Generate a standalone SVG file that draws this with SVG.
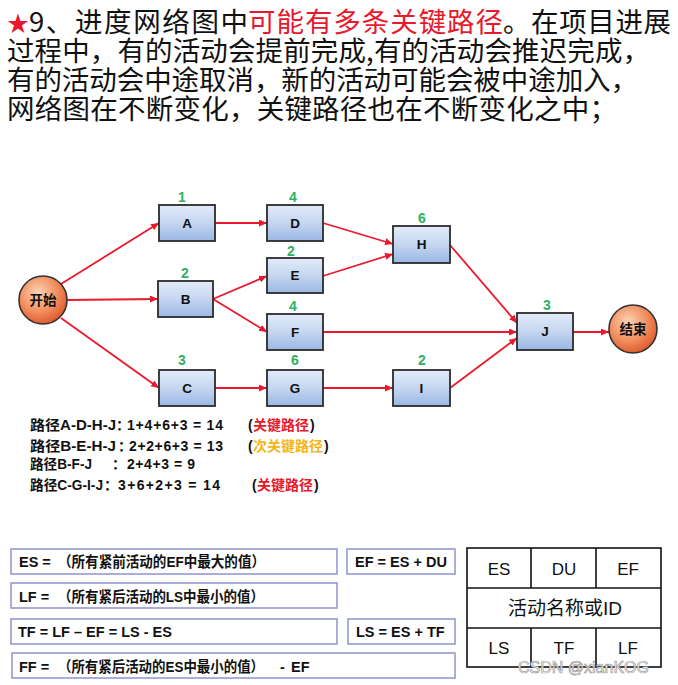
<svg xmlns="http://www.w3.org/2000/svg" width="678" height="685" viewBox="0 0 678 685">
<defs>
<linearGradient id="boxg" x1="0" y1="0" x2="0" y2="1">
<stop offset="0" stop-color="#e2ebf9"/>
<stop offset="0.5" stop-color="#c5d6f0"/>
<stop offset="1" stop-color="#9ab7e4"/>
</linearGradient>
<radialGradient id="circg" cx="0.4" cy="0.35" r="0.7">
<stop offset="0" stop-color="#fcd3b8"/>
<stop offset="0.55" stop-color="#f2905f"/>
<stop offset="1" stop-color="#dc5528"/>
</radialGradient>
<marker id="arr" markerUnits="userSpaceOnUse" markerWidth="9" markerHeight="8" refX="8" refY="3.5" orient="auto">
<path d="M0,0 L8,3.5 L0,7 z" fill="#e8192c"/>
</marker>
</defs>
<style>
.title{font-family:"Noto Sans CJK SC","Noto Sans",sans-serif;font-size:27.5px;fill:#111}
.box{fill:url(#boxg);stroke:#2b2b2b;stroke-width:1.8}
.circ{fill:url(#circg);stroke:#333;stroke-width:1.6}
.lbl{font-family:"Liberation Sans","Noto Sans CJK SC",sans-serif;font-size:13.5px;font-weight:bold;fill:#111;text-anchor:middle}
.num{font-family:"Liberation Sans",sans-serif;font-size:14px;font-weight:bold;fill:#2fb062;text-anchor:middle}
.conn line{stroke:#e8192c;stroke-width:1.8;marker-end:url(#arr)}
.path{font-family:"Liberation Sans","Noto Sans CJK SC",sans-serif;font-size:14px;font-weight:bold;fill:#111}
.frm{fill:#fff;stroke:#8f93cc;stroke-width:1.5}
.ft{font-family:"Liberation Sans","Noto Sans CJK SC",sans-serif;font-size:14.5px;font-weight:bold;fill:#111}
.tb{fill:none;stroke:#111;stroke-width:1.6}
.tt{font-family:"Liberation Sans","Noto Sans CJK SC",sans-serif;font-size:17px;fill:#111;text-anchor:middle}
.red{fill:#e8192c}
.yel{fill:#f3b51a}
</style>
<rect width="678" height="685" fill="#fff"/>

<g id="title">
<text class="title red" x="7" y="31" style="font-size:22px">★</text>
<text class="title" x="29" y="32" textLength="219" lengthAdjust="spacing">9、进度网络图中</text>
<text class="title red" x="248" y="32" textLength="255" lengthAdjust="spacing">可能有多条关键路径</text>
<text class="title" x="503" y="32" textLength="168" lengthAdjust="spacing">。在项目进展</text>
<text class="title" x="7" y="61" textLength="643" lengthAdjust="spacing">过程中，有的活动会提前完成,有的活动会推迟完成，</text>
<text class="title" x="7" y="90" textLength="631" lengthAdjust="spacing">有的活动会中途取消，新的活动可能会被中途加入，</text>
<text class="title" x="7" y="119" textLength="610" lengthAdjust="spacing">网络图在不断变化，关键路径也在不断变化之中；</text>
</g>

<g id="connectors" class="conn">
<line x1="61" y1="284" x2="159" y2="223"/>
<line x1="67" y1="300" x2="158" y2="299"/>
<line x1="61" y1="318" x2="159" y2="388"/>
<line x1="215" y1="223" x2="267" y2="223"/>
<line x1="213" y1="299" x2="267" y2="276"/>
<line x1="213" y1="299" x2="267" y2="332"/>
<line x1="215" y1="388" x2="267" y2="388"/>
<line x1="323" y1="223" x2="393" y2="244"/>
<line x1="323" y1="276" x2="393" y2="254"/>
<line x1="323" y1="332" x2="517" y2="332"/>
<line x1="323" y1="388" x2="393" y2="388"/>
<line x1="450" y1="245" x2="517" y2="323"/>
<line x1="450" y1="388" x2="517" y2="338"/>
<line x1="573" y1="332" x2="609" y2="332"/>
</g>

<g id="start"><circle class="circ" cx="43" cy="300" r="24"/><text class="lbl" x="43" y="305">开始</text></g>
<g id="A"><rect class="box" x="159" y="205" width="56" height="36"/><text class="lbl" x="187" y="228">A</text><text class="num" x="182" y="202">1</text></g>
<g id="D"><rect class="box" x="267" y="205" width="56" height="36"/><text class="lbl" x="295" y="228">D</text><text class="num" x="293" y="202">4</text></g>
<g id="E"><rect class="box" x="267" y="258" width="56" height="35"/><text class="lbl" x="295" y="280">E</text><text class="num" x="291" y="256">2</text></g>
<g id="B"><rect class="box" x="158" y="281" width="55" height="36"/><text class="lbl" x="185.5" y="304">B</text><text class="num" x="185" y="278">2</text></g>
<g id="F"><rect class="box" x="267" y="314" width="56" height="36"/><text class="lbl" x="295" y="337">F</text><text class="num" x="293" y="311">4</text></g>
<g id="C"><rect class="box" x="159" y="370" width="56" height="36"/><text class="lbl" x="187" y="393">C</text><text class="num" x="182" y="365">3</text></g>
<g id="G"><rect class="box" x="267" y="370" width="56" height="36"/><text class="lbl" x="295" y="393">G</text><text class="num" x="295" y="365">6</text></g>
<g id="H"><rect class="box" x="393" y="226" width="57" height="37"/><text class="lbl" x="421.5" y="249">H</text><text class="num" x="422" y="223">6</text></g>
<g id="J"><rect class="box" x="517" y="313" width="56" height="37"/><text class="lbl" x="545" y="336">J</text><text class="num" x="547" y="310">3</text></g>
<g id="I"><rect class="box" x="393" y="370" width="57" height="36"/><text class="lbl" x="421.5" y="393">I</text><text class="num" x="422" y="365">2</text></g>
<g id="end"><circle class="circ" cx="633" cy="329" r="24"/><text class="lbl" x="633" y="334">结束</text></g>

<g id="paths">
<text class="path" x="30" y="430" textLength="86" lengthAdjust="spacingAndGlyphs">路径A-D-H-J</text>
<text class="path" x="116" y="430">：</text>
<text class="path" x="127" y="430" textLength="96" lengthAdjust="spacing">1+4+6+3 = 14</text>
<text class="path" x="248" y="430">(</text>
<text class="path red" x="253" y="430">关键路径</text>
<text class="path" x="310" y="430">)</text>
<text class="path" x="30" y="451" textLength="86" lengthAdjust="spacingAndGlyphs">路径B-E-H-J</text>
<text class="path" x="118" y="451">：</text>
<text class="path" x="129" y="451" textLength="94" lengthAdjust="spacing">2+2+6+3 = 13</text>
<text class="path" x="248" y="451">(</text>
<text class="path yel" x="253" y="451">次关键路径</text>
<text class="path" x="324" y="451">)</text>
<text class="path" x="30" y="469" textLength="62" lengthAdjust="spacingAndGlyphs">路径B-F-J</text>
<text class="path" x="112" y="469">：</text>
<text class="path" x="127" y="469" textLength="68" lengthAdjust="spacing">2+4+3 = 9</text>
<text class="path" x="30" y="490" textLength="73" lengthAdjust="spacingAndGlyphs">路径C-G-I-J</text>
<text class="path" x="104" y="490">：</text>
<text class="path" x="118" y="490" textLength="102" lengthAdjust="spacing">3+6+2+3 = 14</text>
<text class="path" x="252" y="490">(</text>
<text class="path red" x="257" y="490">关键路径</text>
<text class="path" x="314" y="490">)</text>
</g>

<g id="formulas">
<rect class="frm" x="11" y="549" width="326" height="25"/>
<text class="ft" x="19" y="567">ES =</text>
<text class="ft" x="58" y="567" textLength="207" lengthAdjust="spacingAndGlyphs">（所有紧前活动的EF中最大的值）</text>
<rect class="frm" x="347" y="549" width="108" height="25"/>
<text class="ft" x="355" y="567">EF = ES + DU</text>
<rect class="frm" x="11" y="583" width="326" height="25"/>
<text class="ft" x="19" y="602">LF =</text>
<text class="ft" x="58" y="602" textLength="206" lengthAdjust="spacingAndGlyphs">（所有紧后活动的LS中最小的值）</text>
<rect class="frm" x="11" y="619" width="326" height="25"/>
<text class="ft" x="18" y="637">TF = LF – EF = LS - ES</text>
<rect class="frm" x="348" y="619" width="107" height="25"/>
<text class="ft" x="356" y="637">LS = ES + TF</text>
<rect class="frm" x="12" y="653" width="443" height="25"/>
<text class="ft" x="19" y="672">FF =</text>
<text class="ft" x="58" y="672" textLength="206" lengthAdjust="spacingAndGlyphs">（所有紧后活动的ES中最小的值）</text>
<text class="ft" x="280" y="672">-</text>
<text class="ft" x="291" y="672">EF</text>
</g>

<g id="legend">
<rect class="tb" x="467" y="548" width="194" height="119"/>
<line class="tb" x1="467" y1="588" x2="661" y2="588"/>
<line class="tb" x1="467" y1="628" x2="661" y2="628"/>
<line class="tb" x1="531" y1="548" x2="531" y2="588"/>
<line class="tb" x1="596" y1="548" x2="596" y2="588"/>
<line class="tb" x1="531" y1="628" x2="531" y2="667"/>
<line class="tb" x1="596" y1="628" x2="596" y2="667"/>
<text class="tt" x="499" y="575">ES</text>
<text class="tt" x="564" y="575">DU</text>
<text class="tt" x="628" y="575">EF</text>
<text class="tt" x="565" y="615" style="font-size:19px">活动名称或ID</text>
<text class="tt" x="499" y="654">LS</text>
<text class="tt" x="564" y="654">TF</text>
<text class="tt" x="628" y="654">LF</text>
<text x="518" y="673" style="font-family:'Liberation Sans',sans-serif;font-size:16px;fill:#fff;stroke:#9a9a9a;stroke-width:0.7">CSDN @xianKOG</text>
</g>
</svg>
